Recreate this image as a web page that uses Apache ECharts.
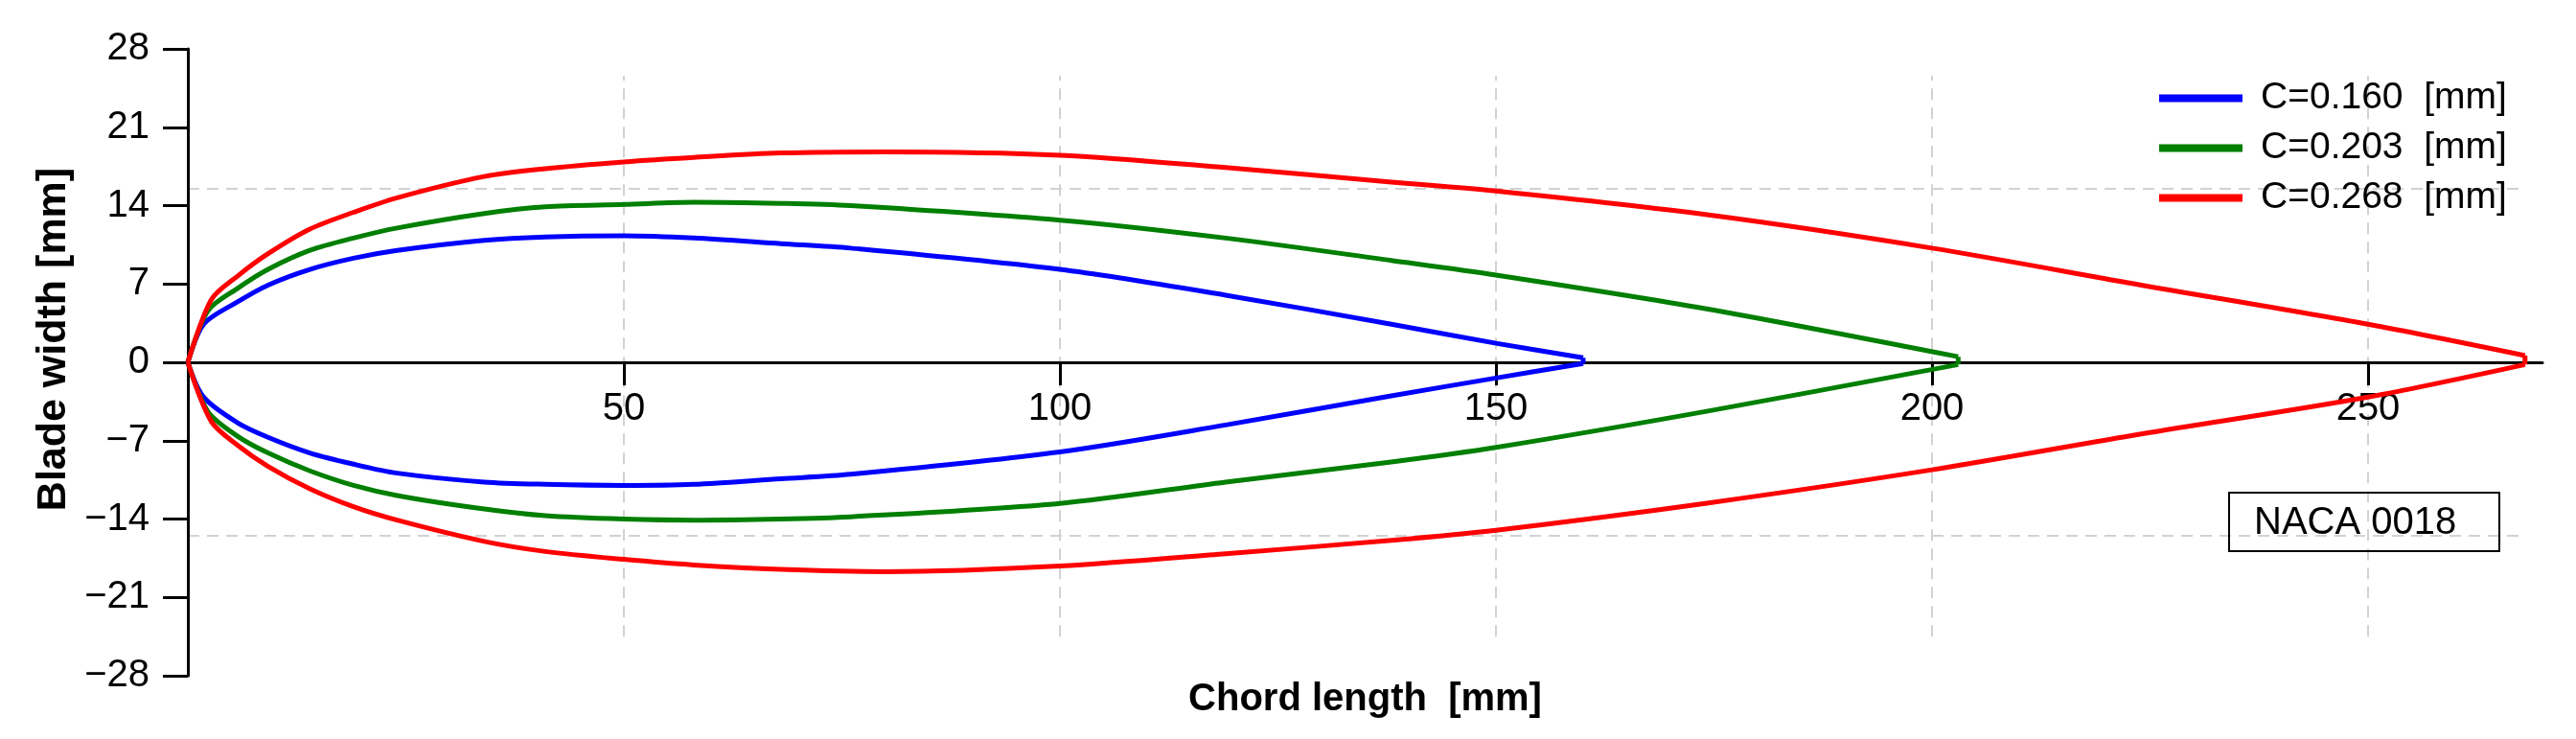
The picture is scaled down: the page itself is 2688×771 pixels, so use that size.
<!DOCTYPE html>
<html>
<head>
<meta charset="utf-8">
<title>NACA 0018 blade profiles</title>
<script src="https://cdn.jsdelivr.net/npm/echarts@6/dist/echarts.min.js"></script>
<style>
  html, body { margin: 0; padding: 0; background: #fff; }
  #main { width: 2688px; height: 771px; }
</style>
</head>
<body>
<div id="main"></div>
<script>
// values, chord position / half width in mm
var seriesNames = ['C=0.160  [mm]', 'C=0.203  [mm]', 'C=0.268  [mm]'];
var xTicks = [50, 100, 150, 200, 250];

var blueX     = [0, 1.8, 5.7, 9.2, 14, 19, 24, 34, 41, 50, 58, 68, 76, 100, 119, 138, 150, 160];
var blueUpper = [0, 3.4, 5.4, 6.9, 8.3, 9.3, 10.0, 10.9, 11.2, 11.3, 11.1, 10.6, 10.2, 8.3, 6.0, 3.4, 1.7, 0.4];
var blueLower = [0, -3.1, -5.4, -6.7, -8.1, -9.1, -9.9, -10.7, -10.9, -11.0, -10.9, -10.4, -10.0, -8.0, -5.6, -3.0, -1.4, -0.1];

var greenX     = [0, 2.3, 5.7, 9.2, 14, 19, 24, 34, 41, 50, 58, 68, 76, 100, 119, 138, 150, 174, 203];
var greenUpper = [0, 4.6, 6.6, 8.3, 10.0, 11.1, 12.0, 13.3, 13.9, 14.1, 14.3, 14.2, 14.0, 12.7, 11.1, 9.1, 7.8, 4.8, 0.5];
var greenLower = [0, -4.4, -6.6, -8.1, -9.7, -11.0, -11.9, -13.1, -13.7, -14.0, -14.1, -14.0, -13.8, -12.6, -10.7, -8.9, -7.6, -4.4, -0.2];

var redX     = [0, 2.7, 5.7, 9.2, 14, 19, 24, 34, 41, 50, 58, 68, 80, 100, 119, 138, 150, 174, 200, 224, 250, 268];
var redUpper = [0, 5.6, 7.7, 9.7, 11.9, 13.4, 14.7, 16.6, 17.3, 17.9, 18.3, 18.7, 18.8, 18.5, 17.4, 16.1, 15.3, 13.2, 10.2, 6.9, 3.4, 0.6];
var redLower = [0, -5.3, -7.4, -9.3, -11.3, -12.9, -14.1, -16.0, -16.9, -17.6, -18.1, -18.5, -18.7, -18.2, -17.1, -15.9, -15.0, -12.6, -9.6, -6.4, -3.1, -0.2];

// the dashed guide lines (axis units)
var guideX = [50, 100, 150, 200, 250];
var guideXSpan = [-24.5, 25.6];
var guideY = [-15.5, 15.5];
var guideYSpan = [0, 268];

function pairs(xs, ys) {
    return xs.map(function (x, i) { return [x, ys[i]]; });
}

var guides = [];
guideX.forEach(function (x) {
    guides.push([{ coord: [x, guideXSpan[0]] }, { coord: [x, guideXSpan[1]] }]);
});
guideY.forEach(function (y) {
    guides.push([{ coord: [guideYSpan[0], y] }, { coord: [guideYSpan[1], y] }]);
});

var labelFont = '"Liberation Sans", Arial, sans-serif';

// one surface of a profile; upper and lower share a name so the legend shows one entry
function surface(name, data, color, smooth) {
    return {
        name: name,
        type: 'line',
        data: data,
        symbol: 'none',
        smooth: smooth,
        z: 3,
        lineStyle: { color: color, width: 5, join: 'round' },
        itemStyle: { color: color }
    };
}

// short closing stroke at the trailing edge
function tail(name, xs, upper, lower, color) {
    var n = xs.length - 1;
    return surface(name, [[xs[n], upper[n]], [xs[n], lower[n]]], color, false);
}

var profiles = [
    [seriesNames[0], blueX, blueUpper, blueLower, '#0000ff'],
    [seriesNames[1], greenX, greenUpper, greenLower, '#007f00'],
    [seriesNames[2], redX, redUpper, redLower, '#ff0000']
];

// guides sit under the axes so the black ticks stay on top (markLine has its own z)
var series = [{
    type: 'line',
    data: [],
    symbol: 'none',
    silent: true,
    z: -1,
    markLine: {
        z: -1,
        silent: true,
        symbol: 'none',
        label: { show: false },
        lineStyle: { color: '#d2d2d2', type: [12, 8], width: 2 },
        data: guides
    }
}];
profiles.forEach(function (p) {
    series.push(surface(p[0], pairs(p[1], p[2]), p[4], 0.3));
    series.push(surface(p[0], pairs(p[1], p[3]), p[4], 0.3));
    series.push(tail(p[0], p[1], p[2], p[3], p[4]));
});

var chart = echarts.init(document.getElementById('main'));
chart.setOption({
    animation: false,
    backgroundColor: '#fff',
    grid: { left: 196, right: 35, top: 51, bottom: 66, outerBoundsMode: 'none', containLabel: false },
    legend: {
        orient: 'vertical',
        left: 2248,
        top: 78,
        icon: 'rect',
        itemWidth: 87,
        itemHeight: 8,
        itemGap: 13,
        data: seriesNames,
        textStyle: { fontSize: 39, fontFamily: labelFont, color: '#000', padding: [0, 0, 0, 14] }
    },
    xAxis: {
        type: 'value',
        min: 0,
        max: 270,
        interval: 50,
        position: 'bottom',
        offset: -327,
        name: 'Chord length  [mm]',
        nameLocation: 'middle',
        nameGap: 332,
        nameTextStyle: { fontSize: 40, fontWeight: 'bold', fontFamily: labelFont, color: '#000' },
        axisLine: { onZero: false, lineStyle: { color: '#000', width: 3 } },
        axisTick: { show: true, length: 24, customValues: xTicks, lineStyle: { color: '#000', width: 3 } },
        axisLabel: { customValues: xTicks, margin: 29, fontSize: 40, fontFamily: labelFont, color: '#000' },
        splitLine: { show: false }
    },
    yAxis: {
        type: 'value',
        min: -28,
        max: 28,
        interval: 7,
        axisLine: { show: true, onZero: false, lineStyle: { color: '#000', width: 3 } },
        axisTick: { show: true, length: 26, lineStyle: { color: '#000', width: 3 } },
        axisLabel: {
            margin: 40,
            fontSize: 40,
            fontFamily: labelFont,
            color: '#000',
            formatter: function (v) { return String(v).replace('-', '\u2212'); }
        },
        splitLine: { show: false }
    },
    graphic: [
        {
            type: 'text',
            x: 56,
            y: 354,
            rotation: Math.PI / 2,
            style: {
                text: 'Blade width [mm]',
                font: 'bold 43px "Liberation Sans", Arial, sans-serif',
                fill: '#000',
                align: 'center',
                verticalAlign: 'middle',
                textAlign: 'center',
                textVerticalAlign: 'middle'
            }
        },
        {
            type: 'rect',
            shape: { x: 2326, y: 514, width: 282, height: 61 },
            style: { fill: 'none', stroke: '#000', lineWidth: 2 }
        },
        {
            type: 'text',
            x: 2352,
            y: 546,
            style: {
                text: 'NACA 0018',
                font: '40px "Liberation Sans", Arial, sans-serif',
                fill: '#000',
                align: 'left',
                verticalAlign: 'middle',
                textAlign: 'left',
                textVerticalAlign: 'middle'
            }
        }
    ],
    series: series
});
</script>
</body>
</html>
